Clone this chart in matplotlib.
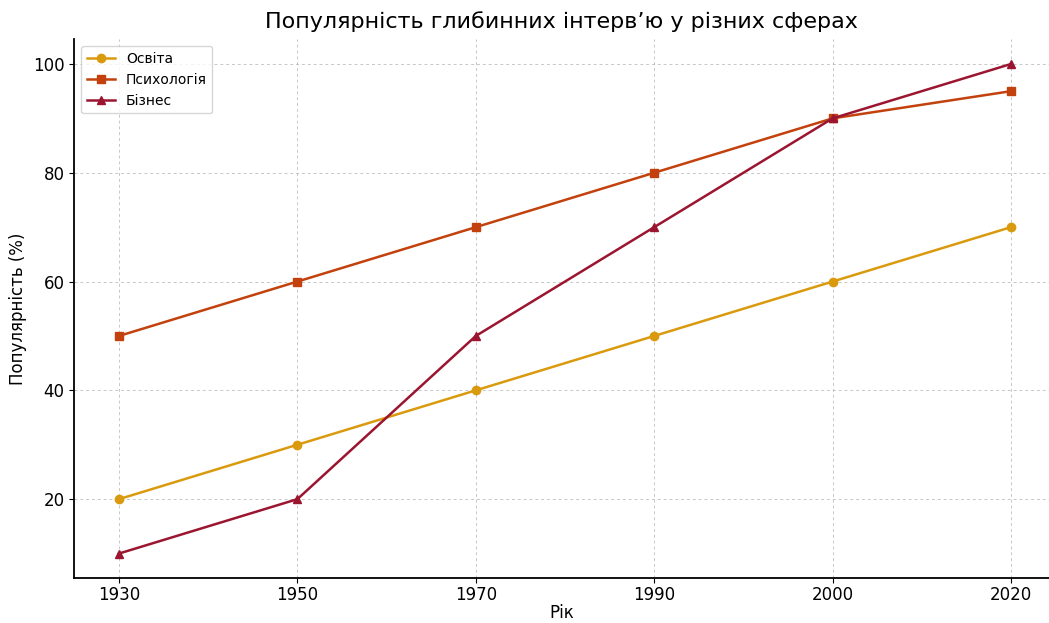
import matplotlib.pyplot as plt

years = ['1930', '1950', '1970', '1990', '2000', '2020']
osvita = [20, 30, 40, 50, 60, 70]
psykholohiia = [50, 60, 70, 80, 90, 95]
biznes = [10, 20, 50, 70, 90, 100]

fig = plt.figure(figsize=(10.49, 6.23), dpi=100)
ax = fig.add_axes([0.0709, 0.0722, 0.9291, 0.8644])

x = range(len(years))
ax.plot(x, osvita, color='#DA9A0E', marker='o', lw=1.8, ms=6, label='Освіта')
ax.plot(x, psykholohiia, color='#C2410C', marker='s', lw=1.8, ms=6, label='Психологія')
ax.plot(x, biznes, color='#9B1530', marker='^', lw=1.8, ms=6, label='Бізнес')

ax.set_xticks(list(x))
ax.set_xticklabels(years)
ax.set_xlim(-0.25, 5.213)
ax.set_ylim(5.5, 104.5)
ax.set_yticks([20, 40, 60, 80, 100])
ax.tick_params(labelsize=12)
ax.tick_params(axis='x', pad=2)

ax.grid(True, linestyle=(0, (3, 3)), color='#b8b8b8', lw=0.7, alpha=0.8)
ax.spines['top'].set_visible(False)
ax.spines['right'].set_visible(False)
for s in ('left', 'bottom'):
    ax.spines[s].set_linewidth(1.3)

ax.set_title('Популярність глибинних інтерв’ю у різних сферах', fontsize=16, pad=8)
ax.set_xlabel('Рік', fontsize=12, labelpad=0)
ax.set_ylabel('Популярність (%)', fontsize=12)
ax.legend(loc='upper left', fontsize=10)

fig.savefig('out.png', dpi=100)
